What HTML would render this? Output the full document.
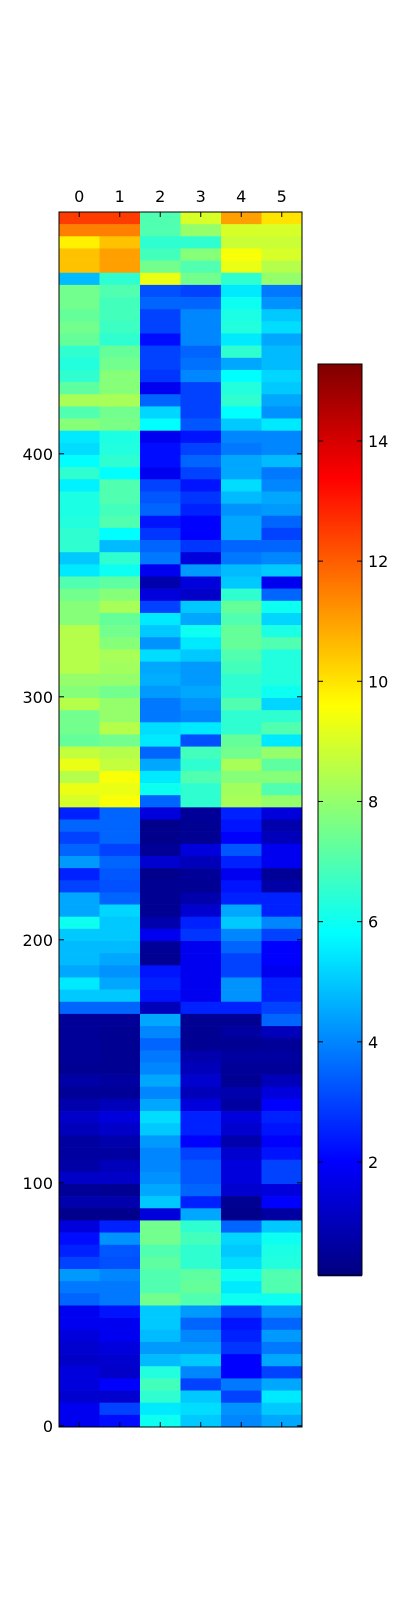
<!DOCTYPE html>
<html><head><meta charset="utf-8"><style>
html,body{margin:0;padding:0;background:#fff;}
svg text{font-family:"DejaVu Sans","Liberation Sans",sans-serif;font-size:16px;fill:#000;}
</style></head><body>
<svg id="chart" width="400" height="1600" xmlns="http://www.w3.org/2000/svg">
<g id="cells"></g>
<g id="cbar"></g>
<g id="axes"></g>
</svg>
<script>
// Values per 5-row block, listed top (row 499) to bottom (row 0)
const col0 = [12.5,11.5,9.8,10.5,10.5,4.8,7.5,7.5,7.3,7.5, 7.3,6.5,6.3,6.5,7.2,8.3,7,7.8,5.5,5.3, 5.8,6.5,5.6,6.2,6.2,6.3,6.5,6.5,5,5.5, 7,7.5,7.8,7.8,8.5,8.5,8.5,8.5,8,7.8, 8.5,7.5,7.5,7.3,8.7,9.3,8.5,9.3,9,2.5, 3.5,3,3.5,4.3,2.5,3,4.5,4.5,6,5, 4.8,4.8,4.5,5.5,5,3.5,0.5,0.5,0.5,0.5, 0.4,0.7,0.5,0.8,1.2,1,0.6,0.6,0.7,1.2, 0.5,0.8,0.3,1.5,2.2,2.5,3,4.3,3.8,3.5, 1.8,1.8,1.5,1.3,1.2,1.5,1.5,1.3,1.8,1.8];
const col1 = [12.5,11.5,10.5,11,11,6.5,7,6.8,6.8,6.7, 6.5,7.3,7.5,7.8,7.8,8.3,7.5,7.6,6.2,6.3, 6.5,5.8,7,7,6.8,7,5.8,4.8,6.5,6, 7.2,7.8,8.3,7.3,7.5,7.8,8.3,8.2,8,7.5, 8,8,8.5,7.5,8.5,8.7,9.5,9.3,9.5,3.5, 3.5,3.5,3,3.5,3.3,3.2,3.5,5.2,5,5, 4.8,4.5,4.2,4.5,5,3.5,0.5,0.4,0.4,0.4, 0.4,0.6,0.5,1,1.5,1.2,0.8,0.6,1,1.2, 0.4,0.8,0.3,2.5,4.2,3.3,3.2,4,3.8,3.8, 2.3,1.8,1.8,1.5,1.3,1.2,2,1.3,3,2.2];
const col2 = [7,7,6.5,6.8,7.5,9.3,3.2,3.5,3,3, 2.2,3,3,2.8,1.8,3.5,5.2,5.8,1.8,2.2, 2.2,1.8,3,3.3,3.5,2.3,2.8,3.5,3.8,1.8, 0.8,1.5,3,5.5,5,4.2,5.3,4.5,4.6,4.3, 3.8,3.8,5.3,5.5,3.5,4.5,5.5,6,3.5,1.5, 0.3,0.3,0.5,1.3,0.3,0.4,0.4,0.4,0.8,1.8, 0.5,0.4,2.3,2.5,2.3,1,4.5,4,3.5,3.8, 4,4.5,4,4.5,5.3,5,4.3,4,4,4.2, 4.5,5,1.5,7.5,7.5,7,7.2,7,7,7.5, 5,5,4.8,4.3,4.8,6.3,6.8,6.5,5.5,6];
const col3 = [9,8,6.5,7.8,7,7.5,3,3.5,4,4, 4,3.5,3.7,4,3,3,3,3.3,2.3,3, 3.5,3,2.3,2.8,2.5,2,2,2.8,1.5,4.3, 1.5,1.2,5,4.5,6,5.5,5,4.3,4.3,4.5, 4.2,4,5.5,3.2,6.8,6.5,7,6.5,6.5,0.5, 0.4,0.4,1.5,1,0.5,0.4,0.8,1.3,2.5,2.8, 1.8,1.8,1.8,1.8,1.8,2.5,0.4,0.4,0.4,0.8, 1,1.3,1,1.5,2.5,2.5,2,3,3.3,3.3, 3.5,2.5,4.5,6.5,6.8,6.5,6.5,7.2,7.3,7, 4.3,3.5,4,4.3,5,4,3,5,5.3,5];
const col4 = [11,9,8.8,9.5,9.3,6.5,5.5,6,6.2,6.3, 5.5,6.5,4.5,5.8,6.3,6.5,5.8,5,4,3.8, 4.5,4.5,5.3,4.8,4.2,4.5,4.5,3.5,3.8,4.8, 5,6.5,7.3,7,7.3,7.3,7,6.8,6.5,6.5, 7,6.5,6.5,7.3,7.5,8.3,7.8,8.2,8.3,2.5, 2.3,2,3.3,2.5,1.8,2.3,2.5,4.5,5,4, 3.5,3,3,4.2,4.2,2.5,0.4,0.6,0.4,0.6, 0.5,0.4,0.8,0.6,1.5,1.3,0.8,1.3,1.5,1.5, 1.3,0.4,0.3,3.5,5.2,5,5.3,6,5.5,6, 3,2.3,2.5,2.8,2,2,3.8,3,4.2,4];
const col5 = [10,9,8.8,9,8.5,8,3.8,4.2,5,5.3, 4.5,4.8,4.8,5.2,5,4.5,4.2,5.5,4,4, 4.8,3.8,4,4.5,4.3,3.5,3,3.5,4,5, 1.8,3.5,6,5.2,6.2,7,6.3,6.3,6.3,6, 5.2,6.5,7,5.5,8,7.2,7.8,7,8,1.5, 0.8,1,1.8,1.8,0.5,0.7,2.5,2.5,4,3, 2,2,1.8,2.5,2.5,3,3.5,1,0.5,0.6, 0.5,1,1.5,2,2.5,2.3,2,2.3,3,3, 1.5,2,0.6,5,6,6.2,6.3,7,7,6, 4.2,3.5,4.3,3.8,4.5,3,4.5,5.5,5,4.5];
const columns = [col0,col1,col2,col3,col4,col5];
const colLabels = ["0","1","2","3","4","5"];
const yTicks = [0,100,200,300,400];
const cbarTicks = [2,4,6,8,10,12,14];
const blockSize = 5;
const nRows = 500;
const vmin = 0.12, vmax = 15.28;

const NS = "http://www.w3.org/2000/svg";
const L = 59, R = 302, T = 212, B = 1427;
const colW = (R - L) / columns.length;
const xScale = c => L + c * colW;
const yScale = v => B - (v + 0.5) * (B - T) / nRows;
function jet(v){
  let f = (v - vmin) / (vmax - vmin); f = Math.max(0, Math.min(1, f));
  const cl = x => Math.round(255 * Math.max(0, Math.min(1, x)));
  return `rgb(${cl(1.5-Math.abs(4*f-3))},${cl(1.5-Math.abs(4*f-2))},${cl(1.5-Math.abs(4*f-1))})`;
}
function mk(tag, attrs, parent){
  const e = document.createElementNS(NS, tag);
  for (const k in attrs) e.setAttribute(k, attrs[k]);
  parent.appendChild(e); return e;
}
const cells = document.getElementById('cells');
columns.forEach((arr, c) => {
  arr.forEach((v, i) => {
    const rowTop = nRows - 1 - i * blockSize;
    const y0 = yScale(rowTop + 0.5), y1 = yScale(rowTop - blockSize + 0.5);
    const r = mk('rect', {x: xScale(c - 0.5 + 0.5), y: y0, width: colW + 0.3, height: y1 - y0 + 0.3, fill: jet(v)}, cells);
    
    
  });
});
const axes = document.getElementById('axes');
const frame = mk('rect', {x: L, y: T, width: R - L, height: B - T, fill: 'none', stroke: '#000', 'stroke-width': 1}, axes);


colLabels.forEach((lab, c) => {
  const x = xScale(c) + colW / 2;
  mk('line', {x1: x, x2: x, y1: T, y2: T + 5, stroke: '#000'}, axes);
  mk('line', {x1: x, x2: x, y1: B, y2: B - 5, stroke: '#000'}, axes);
  const t = mk('text', {x: x, y: T - 10, 'text-anchor': 'middle'}, axes);
  t.textContent = lab;
  
  
});
yTicks.forEach(v => {
  const y = yScale(v);
  mk('line', {x1: L, x2: L + 5, y1: y, y2: y, stroke: '#000'}, axes);
  mk('line', {x1: R, x2: R - 5, y1: y, y2: y, stroke: '#000'}, axes);
  const t = mk('text', {x: L - 6, y: y + 6, 'text-anchor': 'end'}, axes);
  t.textContent = v;
  
  
});
// colorbar
const cb = document.getElementById('cbar');
const CL = 318, CR = 362, CT = 364, CB = 1275;
const cScale = v => CB - (v - vmin) / (vmax - vmin) * (CB - CT);
for (let p = CT; p < CB; p += 2) {
  const v = vmin + (CB - p - 1) / (CB - CT) * (vmax - vmin);
  mk('rect', {x: CL, y: p, width: CR - CL, height: 2.3, fill: jet(v)}, cb);
}
const cf = mk('rect', {x: CL, y: CT, width: CR - CL, height: CB - CT, fill: 'none', stroke: '#000'}, cb);


cbarTicks.forEach(v => {
  const y = cScale(v);
  mk('line', {x1: CL, x2: CL + 5, y1: y, y2: y, stroke: '#000'}, cb);
  mk('line', {x1: CR, x2: CR - 5, y1: y, y2: y, stroke: '#000'}, cb);
  const t = mk('text', {x: CR + 6, y: y + 6}, cb);
  t.textContent = v;
  
  
});
</script>
</body></html>
